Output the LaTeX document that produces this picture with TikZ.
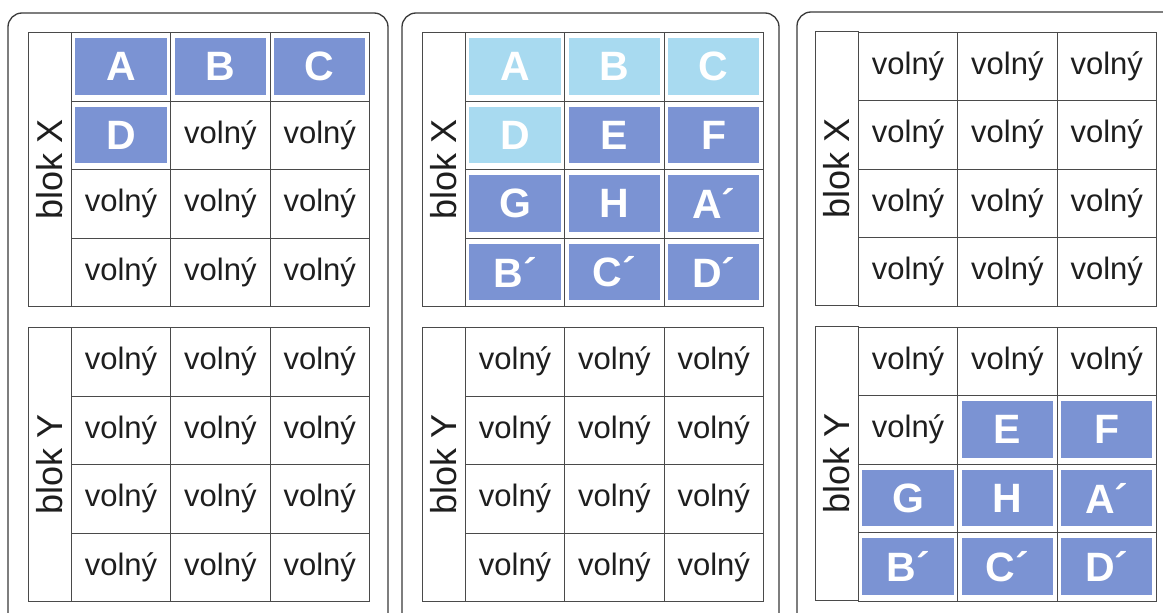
\documentclass[tikz,border=0pt]{standalone}
\usepackage{fontspec}
\setmainfont{Liberation Sans}
\definecolor{usedblue}{HTML}{7B93D3}
\definecolor{oldblue}{HTML}{A8DAF0}
\definecolor{gridline}{HTML}{4A4A4A}
\definecolor{frameline}{HTML}{3A3A3A}
\definecolor{ink}{HTML}{1E1E1E}

\tikzset{
  cell/.style={draw=gridline, line width=0.8pt, inner sep=0pt, anchor=north west,
    minimum width=99.33pt, minimum height=68.5pt, text=ink,
    font=\fontsize{31}{31}\selectfont},
  freecell/.style={cell},
  filledcell/.style={cell, text=white, font=\fontsize{41}{41}\selectfont\bfseries,
    path picture={\fill[#1]
      ([xshift=4pt,yshift=6pt]path picture bounding box.south west) rectangle
      ([xshift=-4pt,yshift=-6pt]path picture bounding box.north east);}},
  usedcell/.style={filledcell=usedblue},
  oldcell/.style={filledcell=oldblue},
  blocklabel/.style={draw=gridline, line width=0.8pt, rotate=90, inner sep=0pt,
    minimum width=274pt, minimum height=43pt, text=ink,
    font=\fontsize{36}{36}\selectfont},
  panel/.style={draw=frameline, line width=1.3pt, rounded corners=14pt},
}

% #1 name, #2 left edge, #3 top edge, #4 label, #5 twelve cells type/text
\newcommand\drawblock[5]{%
  \node[blocklabel] (#1-lab) at (#2+21.5, #3+137) {#4};
  \foreach \t/\s [count=\i from 0] in {#5} {
    \pgfmathtruncatemacro\cc{mod(\i,3)}
    \pgfmathtruncatemacro\rr{int(\i/3)}
    \node[\t] (#1-\i) at (#2+43+\cc*99.33, #3+\rr*68.5) {\s};
  }%
}

\begin{document}
\begin{tikzpicture}[x=1pt, y=-1pt]
  \useasboundingbox (0,0) rectangle (1163,613);
  \fill[white] (0,0) rectangle (1163,613);
  \clip (0,0) rectangle (1163,613);

  % three panels
  \draw[panel] (8,13) rectangle (388,660);
  \draw[panel] (402,13) rectangle (779,660);
  \draw[panel] (797,12) rectangle (1178,660);

  % panel 1
  \drawblock{p1x}{28}{32}{blok X}{usedcell/A, usedcell/B, usedcell/C,
    usedcell/D, freecell/volný, freecell/volný,
    freecell/volný, freecell/volný, freecell/volný,
    freecell/volný, freecell/volný, freecell/volný}
  \drawblock{p1y}{28}{327}{blok Y}{freecell/volný, freecell/volný, freecell/volný,
    freecell/volný, freecell/volný, freecell/volný,
    freecell/volný, freecell/volný, freecell/volný,
    freecell/volný, freecell/volný, freecell/volný}

  % panel 2
  \drawblock{p2x}{422}{32}{blok X}{oldcell/A, oldcell/B, oldcell/C,
    oldcell/D, usedcell/E, usedcell/F,
    usedcell/G, usedcell/H, usedcell/A´,
    usedcell/B´, usedcell/C´, usedcell/D´}
  \drawblock{p2y}{422}{327}{blok Y}{freecell/volný, freecell/volný, freecell/volný,
    freecell/volný, freecell/volný, freecell/volný,
    freecell/volný, freecell/volný, freecell/volný,
    freecell/volný, freecell/volný, freecell/volný}

  % panel 3
  \drawblock{p3x}{815}{31.5}{blok X}{freecell/volný, freecell/volný, freecell/volný,
    freecell/volný, freecell/volný, freecell/volný,
    freecell/volný, freecell/volný, freecell/volný,
    freecell/volný, freecell/volný, freecell/volný}
  \drawblock{p3y}{815}{326.5}{blok Y}{freecell/volný, freecell/volný, freecell/volný,
    freecell/volný, usedcell/E, usedcell/F,
    usedcell/G, usedcell/H, usedcell/A´,
    usedcell/B´, usedcell/C´, usedcell/D´}
\end{tikzpicture}
\end{document}
